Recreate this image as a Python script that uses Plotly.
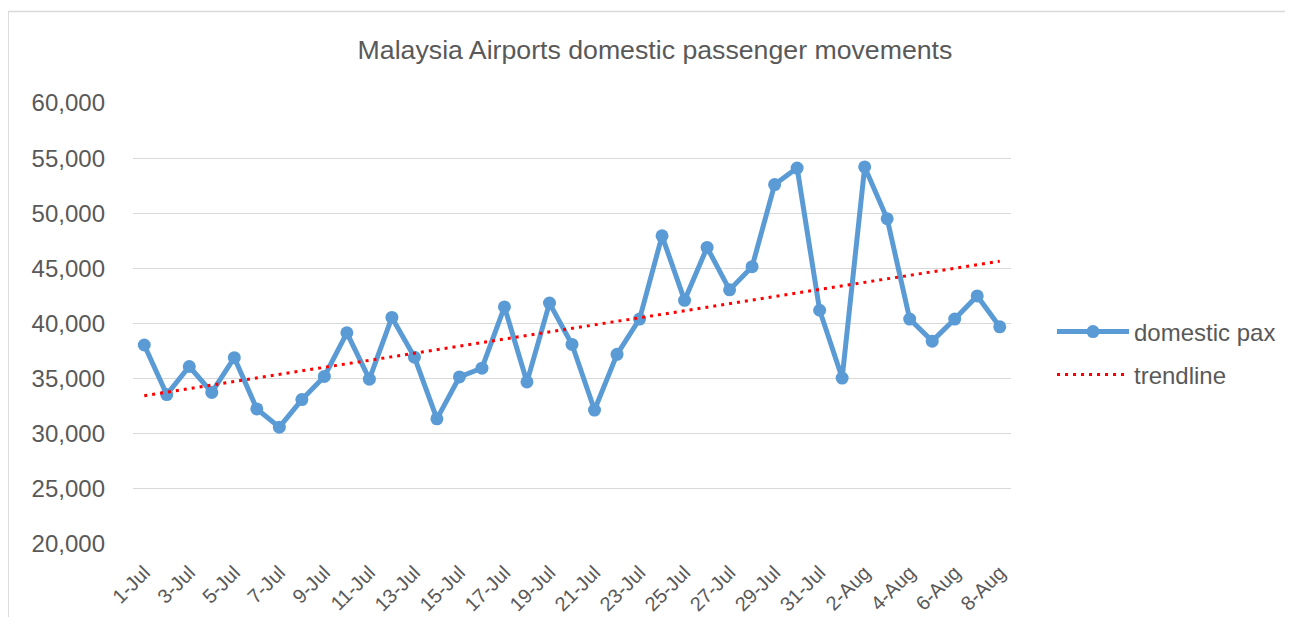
import numpy as np
import plotly.graph_objects as go

dates = ["1-Jul", "2-Jul", "3-Jul", "4-Jul", "5-Jul", "6-Jul", "7-Jul", "8-Jul", "9-Jul", "10-Jul",
         "11-Jul", "12-Jul", "13-Jul", "14-Jul", "15-Jul", "16-Jul", "17-Jul", "18-Jul", "19-Jul", "20-Jul",
         "21-Jul", "22-Jul", "23-Jul", "24-Jul", "25-Jul", "26-Jul", "27-Jul", "28-Jul", "29-Jul", "30-Jul",
         "31-Jul", "1-Aug", "2-Aug", "3-Aug", "4-Aug", "5-Aug", "6-Aug", "7-Aug", "8-Aug"]

domestic_pax = [38050, 33550, 36100, 33750, 36900, 32250, 30600, 33100, 35200, 39150,
                34950, 40550, 36950, 31350, 35150, 35950, 41500, 34700, 41850, 38100,
                32150, 37200, 40400, 47950, 42100, 46900, 43050, 45150, 52600, 54100,
                41200, 35050, 54200, 49500, 40400, 38400, 40400, 42500, 39700]

y_ticks = [20000, 25000, 30000, 35000, 40000, 45000, 50000, 55000, 60000]
x_tick_labels = dates[::2]

# linear trendline fitted from the data (as Excel does)
idx = np.arange(len(domestic_pax))
slope, intercept = np.polyfit(idx, domestic_pax, 1)
trend = (slope * idx + intercept).tolist()

FONT = "Arial, 'Liberation Sans', sans-serif"
GREY = "#595959"
BLUE = "#5B9BD5"

# page offset of the figure (default body margin)
OX, OY = 8, 8
W, H = 1277, 609
# desired plot area in page pixels
PL, PR, PT, PB = 132.5, 1011.5, 103.3, 544.5
L = PL - OX
T = PT - OY
R = W - (PR - OX)
B = H - (PB - OY)
pw, ph = PR - PL, PB - PT

def px_x(p):
    return (p - PL) / pw

def px_y(p):
    return (PB - p) / ph

def cx(p):
    return (p - OX) / W

def cy(p):
    return 1 - (p - OY) / H

fig = go.Figure()
fig.add_trace(go.Scatter(
    x=dates, y=domestic_pax, name="domestic pax", mode="lines+markers",
    line=dict(color=BLUE, width=5), marker=dict(color=BLUE, size=13),
    legend="legend"))
fig.add_trace(go.Scatter(
    x=dates, y=trend, name="trendline", mode="lines",
    line=dict(color="#FF0000", width=3, dash="3px,5px"),
    legend="legend2"))

fig.update_layout(
    width=W, height=H,
    margin=dict(l=L, r=R, t=T, b=B, pad=0, autoexpand=False),
    paper_bgcolor="white", plot_bgcolor="white",
    font=dict(family=FONT, color=GREY),
    title=dict(text="Malaysia Airports domestic passenger movements",
               x=cx(655), xref="container", xanchor="center",
               y=cy(50), yref="container", yanchor="middle",
               font=dict(size=26.7, color=GREY, family=FONT)),
    xaxis=dict(type="category", tickmode="array", tickvals=x_tick_labels,
               ticktext=x_tick_labels, tickangle=-45, showgrid=False,
               showline=False, ticks="", tickfont=dict(size=20, color=GREY),
               range=[-0.5, len(dates) - 0.5], ticklabelstandoff=12,
               automargin=False),
    yaxis=dict(range=[20000, 60000], tickvals=y_ticks, tickformat=",",
               showgrid=True, gridcolor="#D9D9D9", gridwidth=1.3,
               zeroline=False, showline=False, ticks="",
               tickfont=dict(size=24, color=GREY), ticklabelstandoff=27,
               automargin=False),
    legend=dict(x=cx(1052), y=cy(332), xref="container", yref="container",
                xanchor="left", yanchor="middle",
                font=dict(size=24, color=GREY, family=FONT), itemwidth=72,
                bgcolor="rgba(0,0,0,0)"),
    legend2=dict(x=cx(1052), y=cy(375), xref="container", yref="container",
                 xanchor="left", yanchor="middle",
                 font=dict(size=24, color=GREY, family=FONT), itemwidth=72,
                 bgcolor="rgba(0,0,0,0)"),
    shapes=[dict(type="rect", xref="paper", yref="paper",
                 x0=px_x(7.5), x1=px_x(1320), y0=px_y(650), y1=px_y(11.7),
                 line=dict(color="#D9D9D9", width=1.5), layer="below")],
    showlegend=True,
)

fig.write_html("out.html")
